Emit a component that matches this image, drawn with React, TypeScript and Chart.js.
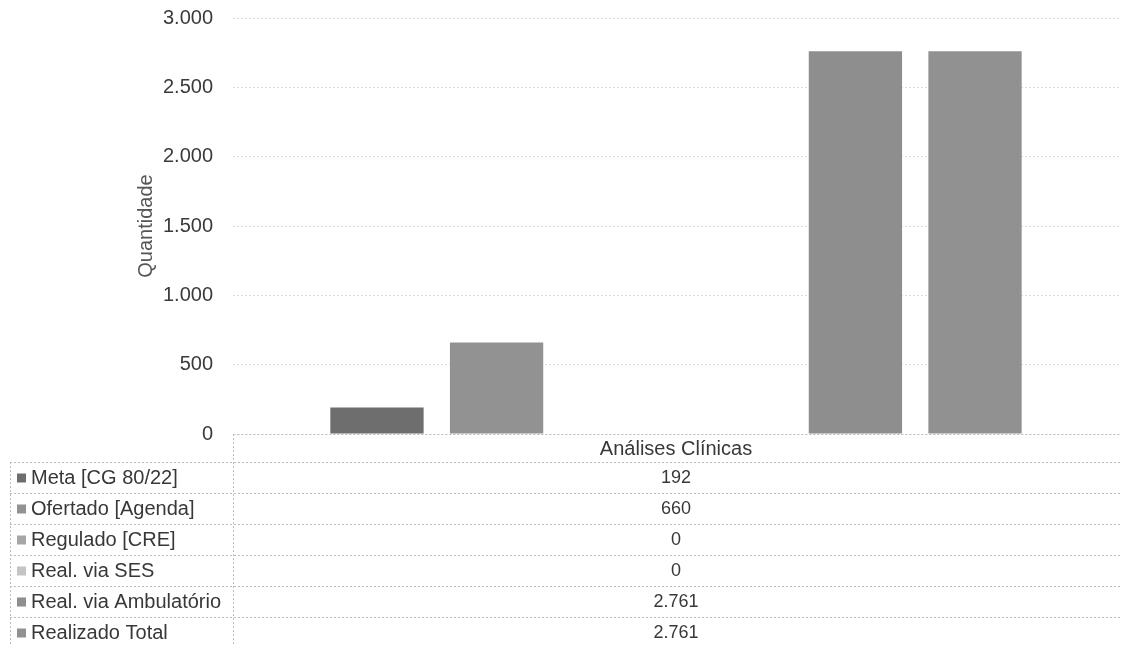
import { useEffect, useRef } from 'react';
import { Chart, registerables } from 'chart.js';

Chart.register(...registerables);

const categories = ['Análises Clínicas'];
const seriesNames = [
  'Meta [CG 80/22]',
  'Ofertado [Agenda]',
  'Regulado [CRE]',
  'Real. via SES',
  'Real. via Ambulatório',
  'Realizado Total',
];
const metaValues = [192];
const ofertadoValues = [660];
const reguladoValues = [0];
const sesValues = [0];
const ambulatorioValues = [2761];
const totalValues = [2761];
const seriesValues = [metaValues, ofertadoValues, reguladoValues, sesValues, ambulatorioValues, totalValues];
const seriesColors = ['#6e6e6e', '#929292', '#a6a6a6', '#c4c4c4', '#8e8e8e', '#919191'];
const yMax = 3000;
const yStep = 500;
const yTitle = 'Quantidade';

const FONT = '"Liberation Sans", Arial, sans-serif';

function fmt(v: number): string {
  return String(v).replace(/\B(?=(\d{3})+(?!\d))/g, '.');
}

const tablePlugin = {
  id: 'dataTable',
  afterDraw(chart: any) {
    const { ctx, chartArea } = chart;
    const xScale = chart.scales.x;
    const left = 10;
    const split = Math.round(chartArea.left);
    const right = chart.width - 2;
    const top = Math.round(chartArea.bottom);
    const headerH = 28;
    const rowH = 31;
    const r0 = top + headerH;

    const line = (x1: number, y1: number, x2: number, y2: number) => {
      ctx.beginPath();
      ctx.moveTo(x1, y1);
      ctx.lineTo(x2, y2);
      ctx.stroke();
    };

    ctx.save();
    ctx.strokeStyle = '#bdbdbd';
    ctx.lineWidth = 1;
    ctx.setLineDash([2, 2]);
    line(split + 0.5, top + 0.5, right, top + 0.5);
    line(split + 0.5, top, split + 0.5, chart.height);
    for (let i = 0; i <= seriesNames.length; i++) {
      const y = r0 + i * rowH + 0.5;
      line(left, y, right, y);
    }
    line(left + 0.5, r0, left + 0.5, chart.height);
    ctx.setLineDash([]);

    const cx = xScale.getPixelForValue(0);
    ctx.fillStyle = '#383838';
    ctx.textBaseline = 'middle';
    ctx.textAlign = 'center';
    ctx.font = `20px ${FONT}`;
    ctx.fillText(categories[0], cx, top + headerH / 2 + 1);

    for (let i = 0; i < seriesNames.length; i++) {
      const cy = r0 + i * rowH + rowH / 2 + 1;
      ctx.textAlign = 'center';
      ctx.font = `18px ${FONT}`;
      ctx.fillStyle = '#383838';
      ctx.fillText(fmt(seriesValues[i][0]), cx, cy);
      ctx.fillStyle = seriesColors[i];
      ctx.fillRect(17, cy - 5, 9, 9);
      ctx.textAlign = 'left';
      ctx.font = `20px ${FONT}`;
      ctx.fillStyle = '#383838';
      ctx.fillText(seriesNames[i], 31, cy);
    }
    ctx.restore();
  },
};

export default function App() {
  const canvasRef = useRef<HTMLCanvasElement | null>(null);

  useEffect(() => {
    if (!canvasRef.current) return;
    const chart = new Chart(canvasRef.current, {
      type: 'bar',
      data: {
        labels: categories,
        datasets: seriesNames.map((name, i) => ({
          label: name,
          data: seriesValues[i],
          backgroundColor: seriesColors[i],
          borderWidth: 0,
          categoryPercentage: 0.81,
          barPercentage: 0.78,
        })),
      },
      options: {
        animation: false,
        responsive: true,
        maintainAspectRatio: false,
        layout: { padding: { top: 18, bottom: 212, left: 130, right: 4 } },
        plugins: {
          legend: { display: false },
          tooltip: { enabled: false },
          title: { display: false },
        },
        scales: {
          x: { display: false },
          y: {
            min: 0,
            max: yMax,
            afterFit: (scale: any) => {
              scale.width = 103;
              scale.paddingTop = 0;
              scale.paddingBottom = 0;
            },
            ticks: {
              stepSize: yStep,
              padding: 20,
              color: '#3a3a3a',
              font: { family: FONT, size: 20 },
              callback: (v: any) => fmt(Number(v)),
            },
            grid: {
              color: '#dadada',
              drawTicks: false,
            },
            border: { display: false, dash: [2, 2] },
            title: {
              display: true,
              text: yTitle,
              color: '#555555',
              font: { family: FONT, size: 20 },
            },
          },
        },
      },
      plugins: [tablePlugin],
    });
    return () => chart.destroy();
  }, []);

  return (
    <div style={{ position: 'absolute', left: 0, top: 0, width: 1123, height: 646, background: '#ffffff' }}>
      <canvas ref={canvasRef} />
    </div>
  );
}
